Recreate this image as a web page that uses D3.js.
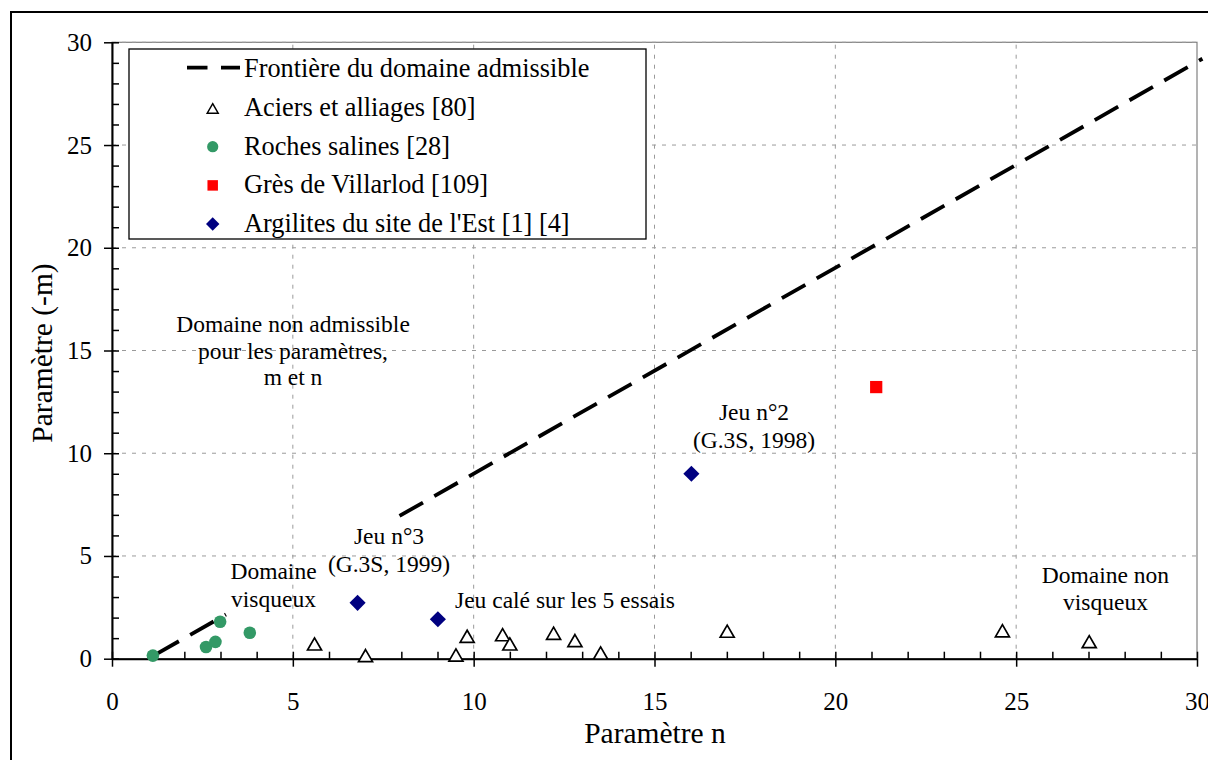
<!DOCTYPE html>
<html>
<head>
<meta charset="utf-8">
<script src="https://cdn.jsdelivr.net/npm/d3@7"></script>
<style>
  html, body { margin: 0; padding: 0; background: #fff; }
  svg { display: block; }
  svg text { font-family: "Liberation Serif", "Times New Roman", serif; }
</style>
</head>
<body>
<svg id="chart" width="1208" height="760"></svg>
<script>
// ---- data ----
const xTickValues = [0, 5, 10, 15, 20, 25, 30];
const yTickValues = [0, 5, 10, 15, 20, 25, 30];

// Frontière du domaine admissible (two visible pieces)
const boundaryLow  = [[1.2, 0.2], [3.15, 2.15]];
const boundaryHigh = [[7.95, 6.95], [30.15, 29.2]];

// Aciers et alliages [80]
const aciersN = [5.60, 7.01, 9.51, 9.82, 10.80, 11.00, 12.21, 12.80, 13.51, 17.01, 24.62, 27.02];
const aciersM = [0.67, 0.10, 0.13, 1.04, 1.12, 0.67, 1.19, 0.83, 0.23, 1.29, 1.31, 0.78];

// Roches salines [28]
const rochesN = [1.13, 2.60, 2.86, 2.99, 3.81];
const rochesM = [0.15, 0.57, 0.82, 1.80, 1.26];

// Grès de Villarlod [109]
const gresN = [21.13];
const gresM = [13.22];

// Argilites du site de l'Est [1] [4]
const argilN = [6.79, 9.01, 16.02];
const argilM = [2.72, 1.92, 9.00];

const legendLabels = [
  "Frontière du domaine admissible",
  "Aciers et alliages [80]",
  "Roches salines [28]",
  "Grès de Villarlod [109]",
  "Argilites du site de l'Est [1] [4]"
];

// ---- drawing ----
const FONT = "Liberation Serif, Times New Roman, serif";
const svg = d3.select("#chart").attr("font-family", FONT);
const x = d3.scaleLinear().domain([0, 30]).range([112, 1197]);
const y = d3.scaleLinear().domain([0, 30]).range([658.7, 42.3]);
const X0 = x(0), X1 = x(30), Y0 = y(0), Y1 = y(30);

// outer frame
svg.append("rect").attr("x", 11).attr("y", 12).attr("width", 1400).attr("height", 1000)
  .attr("fill", "none").attr("stroke", "#000").attr("stroke-width", 2);

// plot area border
svg.append("rect").attr("x", X0).attr("y", Y1).attr("width", X1 - X0).attr("height", Y0 - Y1)
  .attr("fill", "none").attr("stroke", "#808080").attr("stroke-width", 1.2);

// gridlines
const grid = svg.append("g").attr("stroke", "#9a9a9a").attr("stroke-width", 1).attr("stroke-dasharray", "4,6");
grid.selectAll("line.v").data(xTickValues.filter(d => d > 0 && d < 30)).join("line")
  .attr("x1", d => x(d)).attr("x2", d => x(d)).attr("y1", Y0).attr("y2", Y1);
grid.selectAll("line.h").data(yTickValues.filter(d => d > 0)).join("line")
  .attr("x1", X0).attr("x2", X1).attr("y1", d => y(d)).attr("y2", d => y(d));

const fontTick = 25;

// x axis: labels + outward major ticks
const gx = svg.append("g").attr("transform", `translate(0,${Y0})`)
  .call(d3.axisBottom(x).tickValues(xTickValues).tickSizeInner(8).tickSizeOuter(0).tickPadding(26));
gx.attr("font-family", FONT);
gx.select(".domain").attr("stroke", "#000").attr("stroke-width", 2);
gx.selectAll(".tick line").attr("stroke", "#000").attr("stroke-width", 1.5);
gx.selectAll(".tick text").attr("font-size", fontTick).attr("fill", "#000").attr("font-family", FONT);
// inside ticks (minor + major)
const gx2 = svg.append("g").attr("transform", `translate(0,${Y0})`)
  .call(d3.axisTop(x).tickValues(d3.range(0, 31)).tickSize(7).tickFormat(""));
gx2.select(".domain").remove();
gx2.selectAll(".tick line").attr("stroke", "#000").attr("stroke-width", 1.5);

// y axis
const gy = svg.append("g").attr("transform", `translate(${X0},0)`)
  .call(d3.axisLeft(y).tickValues(yTickValues).tickSizeInner(8).tickSizeOuter(0).tickPadding(12));
gy.attr("font-family", FONT);
gy.select(".domain").attr("stroke", "#000").attr("stroke-width", 2);
gy.selectAll(".tick line").attr("stroke", "#000").attr("stroke-width", 1.5);
gy.selectAll(".tick text").attr("font-size", fontTick).attr("fill", "#000").attr("font-family", FONT);
const gy2 = svg.append("g").attr("transform", `translate(${X0},0)`)
  .call(d3.axisRight(y).tickValues(d3.range(0, 31)).tickSize(7).tickFormat(""));
gy2.select(".domain").remove();
gy2.selectAll(".tick line").attr("stroke", "#000").attr("stroke-width", 1.5);

// axis titles
svg.append("text").attr("x", 655).attr("y", 743).attr("text-anchor", "middle")
  .attr("font-family", FONT).attr("font-size", 29.5).text("Paramètre n");
svg.append("text").attr("transform", `translate(52,353) rotate(-90)`).attr("text-anchor", "middle")
  .attr("font-family", FONT).attr("font-size", 29.5).text("Paramètre (-m)");

// boundary line
const line = d3.line().x(d => x(d[0])).y(d => y(d[1]));
[boundaryLow, boundaryHigh].forEach(seg => {
  svg.append("path").datum(seg).attr("d", line).attr("fill", "none")
    .attr("stroke", "#000").attr("stroke-width", 3.8).attr("stroke-dasharray", "27,13");
});

// symbols
const triSym = d3.symbol().type(d3.symbolTriangle).size(85);
const sqSym = d3.symbol().type(d3.symbolSquare).size(150);
const diaSym = d3.symbol().type(d3.symbolSquare).size(130);

svg.append("g").selectAll("path").data(d3.range(aciersN.length)).join("path")
  .attr("d", triSym).attr("transform", i => `translate(${x(aciersN[i])},${y(aciersM[i]) + 1})`)
  .attr("fill", "#fff").attr("stroke", "#000").attr("stroke-width", 1.7);

svg.append("g").selectAll("circle").data(d3.range(rochesN.length)).join("circle")
  .attr("cx", i => x(rochesN[i])).attr("cy", i => y(rochesM[i])).attr("r", 6.3)
  .attr("fill", "#339966");

svg.append("g").selectAll("path").data(d3.range(gresN.length)).join("path")
  .attr("d", sqSym).attr("transform", i => `translate(${x(gresN[i])},${y(gresM[i])})`)
  .attr("fill", "#ff0000");

svg.append("g").selectAll("path").data(d3.range(argilN.length)).join("path")
  .attr("d", diaSym).attr("transform", i => `translate(${x(argilN[i])},${y(argilM[i])}) rotate(45)`)
  .attr("fill", "#000080");

// annotations
const fontAnn = 23.5;
function block(cx, baselines, lines, anchor) {
  lines.forEach((t, i) => {
    svg.append("text").attr("x", cx).attr("y", baselines[i]).attr("text-anchor", anchor || "middle")
      .attr("font-family", FONT).attr("font-size", fontAnn).text(t);
  });
}
block(293, [332, 358.5, 385], ["Domaine non admissible", "pour les paramètres,", "m et n"]);
block(754, [420, 448], ["Jeu n°2", "(G.3S, 1998)"]);
block(389, [543.5, 571.5], ["Jeu n°3", "(G.3S, 1999)"]);
block(273.5, [579, 607], ["Domaine", "visqueux"]);
block(455, [608], ["Jeu calé sur les 5 essais"], "start");
block(1105.5, [582.5, 610], ["Domaine non", "visqueux"]);

// legend
const lg = svg.append("g");
lg.append("rect").attr("x", 129).attr("y", 49).attr("width", 517).attr("height", 190)
  .attr("fill", "#fff").attr("stroke", "#000").attr("stroke-width", 1.3);
const baseY = [77.3, 116, 154.7, 193.4, 232];
lg.selectAll("text").data(legendLabels).join("text")
  .attr("x", 244).attr("y", (d, i) => baseY[i]).attr("font-family", FONT).attr("font-size", 26.3).text(d => d);
lg.append("line").attr("x1", 187).attr("x2", 240).attr("y1", baseY[0] - 9.6).attr("y2", baseY[0] - 9.6)
  .attr("stroke", "#000").attr("stroke-width", 3.8).attr("stroke-dasharray", "20.5,13.5");
const sx = 212.7;
lg.append("path").attr("d", d3.symbol().type(d3.symbolTriangle).size(52))
  .attr("transform", `translate(${sx},${baseY[1] - 6})`)
  .attr("fill", "#fff").attr("stroke", "#000").attr("stroke-width", 1.5);
lg.append("circle").attr("cx", sx).attr("cy", baseY[2] - 8).attr("r", 5.6).attr("fill", "#339966");
lg.append("path").attr("d", d3.symbol().type(d3.symbolSquare).size(110))
  .attr("transform", `translate(${sx},${baseY[3] - 8})`).attr("fill", "#ff0000");
lg.append("path").attr("d", d3.symbol().type(d3.symbolSquare).size(90))
  .attr("transform", `translate(${sx},${baseY[4] - 8}) rotate(45)`).attr("fill", "#000080");
</script>
</body>
</html>
